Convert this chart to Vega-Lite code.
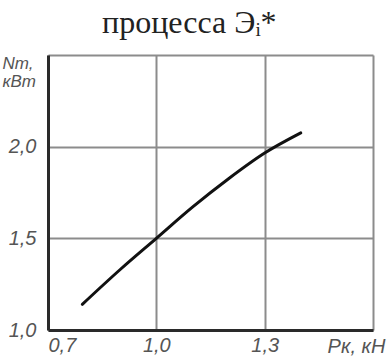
{
  "$schema": "https://vega.github.io/schema/vega-lite/v6.json",
  "autosize": "none",
  "width": 325,
  "height": 275,
  "padding": {"left": 48, "top": 55, "right": 17, "bottom": 27},
  "background": "white",
  "title": {
    "text": "процесса Эᵢ*",
    "font": "Liberation Serif",
    "fontSize": 32,
    "fontWeight": "normal",
    "color": "#222",
    "anchor": "start",
    "dx": 100,
    "dy": 28,
    "offset": 17,
    "baseline": "alphabetic"
  },
  "config": {
    "view": {"stroke": null},
    "axis": {
      "labelFont": "Liberation Sans",
      "labelFontStyle": "italic",
      "labelFontSize": 20,
      "labelColor": "#555",
      "titleFont": "Liberation Sans",
      "titleFontStyle": "italic",
      "titleFontWeight": "normal",
      "titleColor": "#555",
      "gridColor": "#8c8c8c",
      "gridWidth": 2,
      "gridOpacity": 1,
      "domainColor": "#2a2a2a",
      "domainWidth": 3,
      "ticks": false
    }
  },
  "data": {
    "values": [
      {"P": 0.795, "N": 1.14},
      {"P": 0.9, "N": 1.33},
      {"P": 1.0, "N": 1.5},
      {"P": 1.1, "N": 1.67},
      {"P": 1.2, "N": 1.825},
      {"P": 1.3, "N": 1.965},
      {"P": 1.4, "N": 2.075}
    ]
  },
  "mark": {"type": "line", "color": "#111", "strokeWidth": 3, "strokeCap": "round", "interpolate": "monotone"},
  "encoding": {
    "x": {
      "field": "P",
      "type": "quantitative",
      "scale": {"domain": [0.7, 1.6], "nice": false, "zero": false},
      "axis": {
        "values": [0.7, 1.0, 1.3, 1.6],
        "labelExpr": "datum.value > 1.5 ? '' : replace(format(datum.value, '.1f'), '.', ',')",
        "labelFlush": true,
        "labelPadding": 5,
        "labelBaseline": "top",
        "title": "Pк, кН",
        "titleFontSize": 20,
        "titleAngle": 0,
        "titleAnchor": "end",
        "titleAlign": "center",
        "titleX": 308,
        "titleY": 6,
        "titleBaseline": "top"
      }
    },
    "y": {
      "field": "N",
      "type": "quantitative",
      "scale": {"domain": [1.0, 2.5], "nice": false, "zero": false},
      "axis": {
        "values": [1.0, 1.5, 2.0, 2.5],
        "labelExpr": "datum.value > 2.4 ? '' : replace(format(datum.value, '.1f'), '.', ',')",
        "labelPadding": 12,
        "title": ["Nт,", "кВт"],
        "titleFontSize": 17,
        "titleLineHeight": 18,
        "titleAngle": 0,
        "titleAlign": "left",
        "titleBaseline": "top",
        "titleX": -46,
        "titleY": 0
      }
    }
  }
}
